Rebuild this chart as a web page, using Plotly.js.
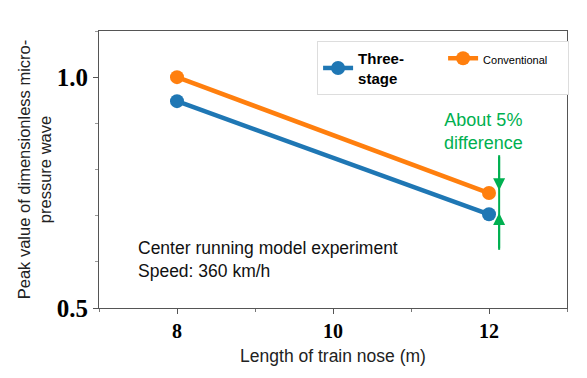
<!DOCTYPE html>
<html><head><meta charset="utf-8">
<script src="https://cdn.plot.ly/plotly-3.0.1.min.js"></script>
<style>html,body{margin:0;padding:0;background:#fff}#chart{width:587px;height:378px}</style>
</head><body><div id="chart"></div>
<script>
const noseLength = [8, 12];
const threeStage = [0.948, 0.703];
const conventional = [1.0, 0.749];
const xTicks = [8, 10, 12];
const yTicks = [0.5, 1.0];
const yTickLabels = ['0.5', '1.0'];
const arrowX = 12.13;
const arrowTop = [0.831, 0.755];
const arrowBottom = [0.626, 0.706];

const traces = [
  {x: noseLength, y: threeStage, mode: 'lines+markers', name: '<b>Three-<br>stage</b>',
   line: {color: '#1f77b4', width: 4.5}, marker: {color: '#1f77b4', size: 14}},
  {x: noseLength, y: conventional, mode: 'lines+markers', name: '<span style="font-size:11px">Conventional</span>',
   line: {color: '#ff7f0e', width: 4.5}, marker: {color: '#ff7f0e', size: 14}}
];
const green = '#00b050';
const layout = {
  width: 587, height: 378,
  margin: {l: 99, r: 20, t: 31, b: 70, autoexpand: false},
  paper_bgcolor: '#fff', plot_bgcolor: '#fff',
  showlegend: true,
  legend: {orientation: 'h', x: 0.466, y: 0.964, xanchor: 'left', yanchor: 'top',
    entrywidth: 80, tracegroupgap: 0, itemwidth: 30,
    bgcolor: '#fff', bordercolor: '#ddd', borderwidth: 1,
    font: {family: 'Liberation Sans, Arial', size: 15, color: '#000'}},
  xaxis: {range: [7, 13], tickvals: xTicks, ticktext: xTicks.map(String),
    showgrid: false, zeroline: false, showline: true, mirror: true, linecolor: '#555', linewidth: 1,
    ticks: 'outside', ticklen: 5, tickcolor: '#555',
    minor: {dtick: 1, ticks: 'outside', ticklen: 3, tickcolor: '#777'},
    tickfont: {family: 'Liberation Serif, Times New Roman', size: 20, weight: 'bold', color: '#000'},
    title: {text: 'Length of train nose (m)', font: {family: 'Liberation Sans, Arial', size: 17.5, color: '#222'}, standoff: 8}},
  yaxis: {range: [0.5, 1.1], tickvals: yTicks, ticktext: yTickLabels,
    showgrid: false, zeroline: false, showline: true, mirror: true, linecolor: '#555', linewidth: 1,
    ticks: 'outside', ticklen: 5, tickcolor: '#555',
    minor: {dtick: 0.1, ticks: 'outside', ticklen: 3, tickcolor: '#999'},
    tickfont: {family: 'Liberation Serif, Times New Roman', size: 25, weight: 'bold', color: '#000'},
    title: {text: 'Peak value of dimensionless micro-<br>pressure wave', font: {family: 'Liberation Sans, Arial', size: 16.5, color: '#222'}, standoff: 0}},
  shapes: [
    {type: 'line', xref: 'x', yref: 'y', x0: arrowX, x1: arrowX, y0: arrowTop[0], y1: arrowBottom[0],
     line: {color: green, width: 2}}
  ],
  annotations: [
    {x: arrowX, y: arrowTop[1], ax: arrowX, ay: arrowTop[0], xref: 'x', yref: 'y', axref: 'x', ayref: 'y',
     showarrow: true, arrowhead: 2, arrowsize: 1.2, arrowwidth: 2, arrowcolor: green, text: ''},
    {x: arrowX, y: arrowBottom[1], ax: arrowX, ay: arrowBottom[0], xref: 'x', yref: 'y', axref: 'x', ayref: 'y',
     showarrow: true, arrowhead: 2, arrowsize: 1.2, arrowwidth: 2, arrowcolor: green, text: ''},
    {x: 11.93, y: 0.883, xref: 'x', yref: 'y', showarrow: false, text: 'About 5%<br>difference',
     font: {family: 'Liberation Sans, Arial', size: 18, color: green}, align: 'center'},
    {x: 7.47, y: 0.605, xref: 'x', yref: 'y', xanchor: 'left', showarrow: false, align: 'left',
     text: 'Center running model experiment<br>Speed: 360 km/h',
     font: {family: 'Liberation Sans, Arial', size: 17.5, color: '#111'}}
  ]
};
Plotly.newPlot('chart', traces, layout, {displayModeBar: false, staticPlot: true});
</script></body></html>
